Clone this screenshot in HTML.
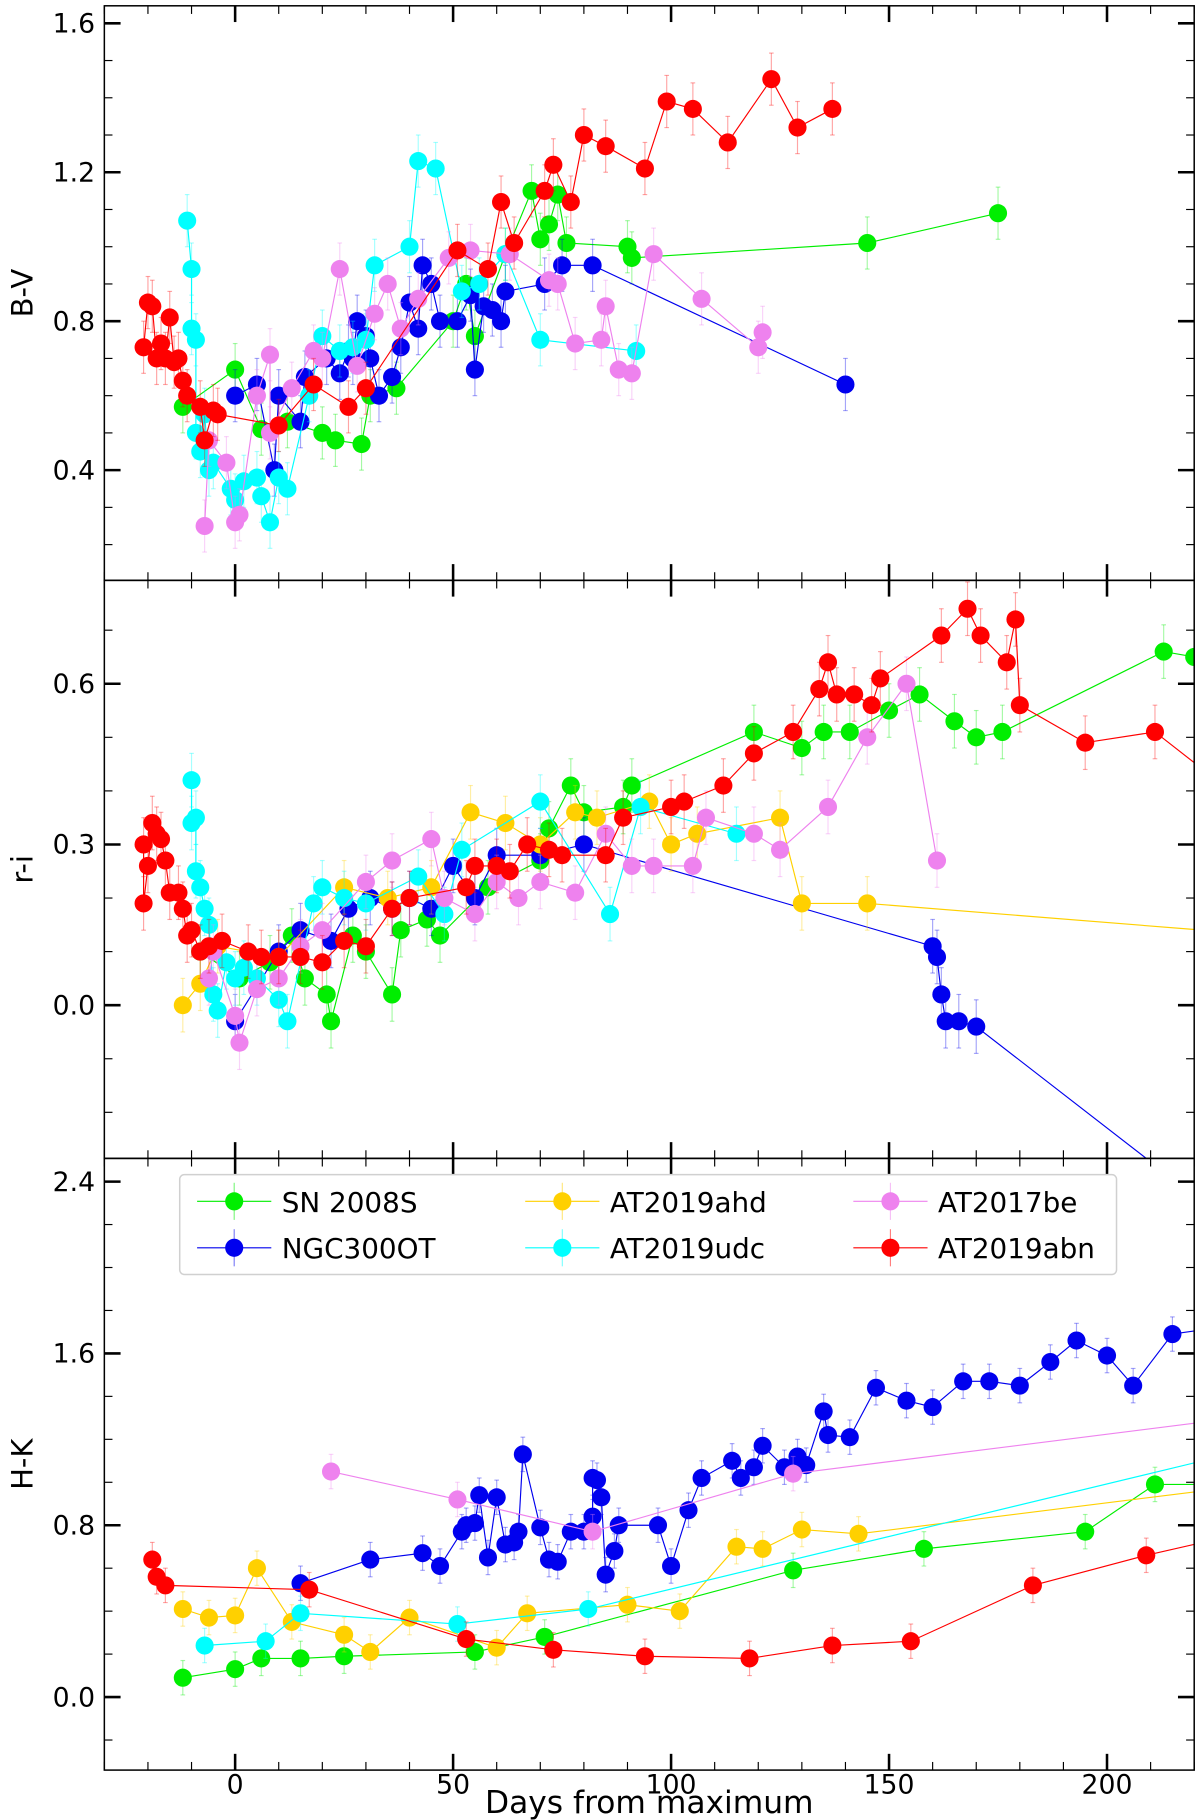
<!DOCTYPE html>
<html><head><meta charset="utf-8"><style>
html,body{margin:0;padding:0;background:#fff;}
svg{display:block;font-family:"DejaVu Sans","Liberation Sans",sans-serif;}
</style></head><body>
<svg id="chart" width="1200" height="1820" viewBox="0 0 1035 1568" preserveAspectRatio="none" xmlns="http://www.w3.org/2000/svg"></svg>
<script>
// ---- DATA ----
const seriesNames = ["SN 2008S","NGC300OT","AT2019ahd","AT2019udc","AT2017be","AT2019abn"];
const seriesColors = ["#00ee00","#0000ee","#ffd000","#00ffff","#ee82ee","#ff0000"];
const xTickLabels = [0,50,100,150,200];

// Panel 1: B-V
const bvSNDays=[-12,0,6,12,20,23,29,31,37,50,53,55,62,68,70,72,74,76,90,91,145,175];
const bvSNVals=[0.57,0.67,0.51,0.53,0.50,0.48,0.47,0.60,0.62,0.80,0.90,0.76,0.98,1.15,1.02,1.06,1.14,1.01,1.00,0.97,1.01,1.09];
const bvNGCDays=[0,5,9,10,15,16,21,24,26,27,28,30,31,33,36,38,40,42,43,45,47,51,54,55,57,59,61,62,71,75,82,140];
const bvNGCVals=[0.60,0.63,0.40,0.60,0.53,0.65,0.70,0.66,0.72,0.70,0.80,0.76,0.70,0.60,0.65,0.73,0.85,0.78,0.95,0.90,0.80,0.80,0.87,0.67,0.84,0.83,0.80,0.88,0.90,0.95,0.95,0.63];
const bvAHDDays=[];
const bvAHDVals=[];
const bvUDCDays=[-11,-10,-10,-9,-9,-8,-7,-6,-5,-1,0,2,5,6,8,10,12,17,20,24,27,30,32,40,42,46,52,56,62,70,92];
const bvUDCVals=[1.07,0.94,0.78,0.75,0.50,0.45,0.55,0.40,0.42,0.35,0.32,0.37,0.38,0.33,0.26,0.38,0.35,0.60,0.76,0.72,0.73,0.75,0.95,1.00,1.23,1.21,0.88,0.90,0.98,0.75,0.72];
const bvBEDays=[-7,-6,-2,0,1,5,8,8,13,18,20,24,28,32,35,38,42,49,54,63,72,74,78,84,85,88,91,96,107,120,121];
const bvBEVals=[0.25,0.48,0.42,0.26,0.28,0.60,0.71,0.50,0.62,0.72,0.70,0.94,0.68,0.82,0.90,0.78,0.86,0.97,0.99,0.98,0.91,0.90,0.74,0.75,0.84,0.67,0.66,0.98,0.86,0.73,0.77];
const bvABNDays=[-21,-20,-19,-18,-17,-16,-15,-14,-13,-12,-11,-8,-7,-5,-4,10,18,26,30,51,58,61,64,71,73,77,80,85,94,99,105,113,123,129,137];
const bvABNVals=[0.73,0.85,0.84,0.70,0.74,0.70,0.81,0.69,0.70,0.64,0.60,0.57,0.48,0.56,0.55,0.52,0.63,0.57,0.62,0.99,0.94,1.12,1.01,1.15,1.22,1.12,1.30,1.27,1.21,1.39,1.37,1.28,1.45,1.32,1.37];

// Panel 2: r-i
const riSNDays=[-8,1,8,13,16,21,22,27,30,36,38,44,47,58,70,72,77,80,89,91,119,130,135,141,150,157,165,170,176,213,220];
const riSNVals=[0.10,0.05,0.08,0.13,0.05,0.02,-0.03,0.13,0.10,0.02,0.14,0.16,0.13,0.22,0.27,0.33,0.41,0.36,0.37,0.41,0.51,0.48,0.51,0.51,0.55,0.58,0.53,0.50,0.51,0.66,0.65];
const riNGCDays=[0,10,15,22,26,31,36,40,45,50,55,60,70,80,160,161,162,163,166,170,235];
const riNGCVals=[-0.03,0.10,0.14,0.12,0.18,0.20,0.18,0.20,0.18,0.26,0.20,0.28,0.28,0.30,0.11,0.09,0.02,-0.03,-0.03,-0.04,-0.45];
const riAHDDays=[-12,-8,-4,10,25,35,45,54,62,70,78,83,95,100,106,125,130,145,222];
const riAHDVals=[0.00,0.04,0.11,0.09,0.22,0.20,0.22,0.36,0.34,0.30,0.36,0.35,0.38,0.30,0.32,0.35,0.19,0.19,0.14];
const riUDCDays=[-10,-10,-9,-9,-8,-7,-6,-5,-4,-2,0,2,5,10,12,18,20,25,30,42,48,52,70,86,93,115];
const riUDCVals=[0.42,0.34,0.35,0.25,0.22,0.18,0.15,0.02,-0.01,0.08,0.05,0.07,0.05,0.01,-0.03,0.19,0.22,0.20,0.19,0.24,0.17,0.29,0.38,0.17,0.37,0.32];
const riBEDays=[-6,-5,0,1,5,10,15,20,30,36,45,48,55,60,65,70,78,85,91,96,105,108,119,125,136,145,154,161];
const riBEVals=[0.05,0.10,-0.02,-0.07,0.03,0.05,0.11,0.14,0.23,0.27,0.31,0.20,0.17,0.23,0.20,0.23,0.21,0.32,0.26,0.26,0.26,0.35,0.32,0.29,0.37,0.50,0.60,0.27];
const riABNDays=[-21,-21,-20,-19,-18,-17,-16,-15,-13,-12,-11,-10,-8,-6,-3,3,6,10,15,20,25,30,36,40,53,55,60,63,67,72,75,85,89,100,103,112,119,128,134,136,138,142,146,148,162,168,171,177,179,180,195,211,222];
const riABNVals=[0.30,0.19,0.26,0.34,0.32,0.31,0.27,0.21,0.21,0.18,0.13,0.14,0.10,0.11,0.12,0.10,0.09,0.09,0.09,0.08,0.12,0.11,0.18,0.20,0.22,0.26,0.26,0.25,0.30,0.29,0.28,0.28,0.35,0.37,0.38,0.41,0.47,0.51,0.59,0.64,0.58,0.58,0.56,0.61,0.69,0.74,0.69,0.64,0.72,0.56,0.49,0.51,0.44];

// Panel 3: H-K
const hkSNDays=[-12,0,6,15,25,55,71,128,158,195,211,222];
const hkSNVals=[0.09,0.13,0.18,0.18,0.19,0.21,0.28,0.59,0.69,0.77,0.99,0.99];
const hkNGCDays=[15,31,43,47,52,53,55,56,58,60,62,64,65,66,70,72,74,77,80,82,82,83,84,85,87,88,97,100,104,107,114,116,119,121,126,129,131,135,136,141,147,154,160,167,173,180,187,193,200,206,215,222];
const hkNGCVals=[0.53,0.64,0.67,0.61,0.77,0.80,0.81,0.94,0.65,0.93,0.71,0.72,0.77,1.13,0.79,0.64,0.63,0.77,0.77,0.84,1.02,1.01,0.93,0.57,0.68,0.80,0.80,0.61,0.87,1.02,1.10,1.02,1.07,1.17,1.07,1.12,1.08,1.33,1.22,1.21,1.44,1.38,1.35,1.47,1.47,1.45,1.56,1.66,1.59,1.45,1.69,1.71];
const hkAHDDays=[-12,-6,0,5,13,25,31,40,60,67,90,102,115,121,130,143,222];
const hkAHDVals=[0.41,0.37,0.38,0.60,0.35,0.29,0.21,0.37,0.23,0.39,0.43,0.40,0.70,0.69,0.78,0.76,0.96];
const hkUDCDays=[-7,7,15,51,81,222];
const hkUDCVals=[0.24,0.26,0.39,0.34,0.41,1.10];
const hkBEDays=[22,51,82,128,222];
const hkBEVals=[1.05,0.92,0.77,1.04,1.28];
const hkABNDays=[-19,-18,-16,17,53,73,94,118,137,155,183,209,222];
const hkABNVals=[0.64,0.56,0.52,0.50,0.27,0.22,0.19,0.18,0.24,0.26,0.52,0.66,0.72];

// ---- LAYOUT ----
const NS="http://www.w3.org/2000/svg";
const svg=document.getElementById('chart');
const L=90,R=1030,xmin=-30,xmax=220;
const xs=d=>L+(d-xmin)/(xmax-xmin)*(R-L);
function mk(tag,attrs,parent){const e=document.createElementNS(NS,tag);for(const k in attrs)e.setAttribute(k,attrs[k]);(parent||svg).appendChild(e);return e;}

const panels=[
 {key:'bv',label:'B-V',top:5,bot:500,ymin:0.104,ymax:1.647,major:[0.4,0.8,1.2,1.6],minorStep:0.1,err:0.07,
  series:[[bvSNDays,bvSNVals],[bvNGCDays,bvNGCVals],[bvAHDDays,bvAHDVals],[bvUDCDays,bvUDCVals],[bvBEDays,bvBEVals],[bvABNDays,bvABNVals]]},
 {key:'ri',label:'r-i',top:500,bot:998,ymin:-0.286,ymax:0.793,major:[0.0,0.3,0.6],minorStep:0.1,err:0.05,
  series:[[riSNDays,riSNVals],[riNGCDays,riNGCVals],[riAHDDays,riAHDVals],[riUDCDays,riUDCVals],[riBEDays,riBEVals],[riABNDays,riABNVals]]},
 {key:'hk',label:'H-K',top:998,bot:1525,ymin:-0.34,ymax:2.508,major:[0.0,0.8,1.6,2.4],minorStep:0.2,err:0.08,
  series:[[hkSNDays,hkSNVals],[hkNGCDays,hkNGCVals],[hkAHDDays,hkAHDVals],[hkUDCDays,hkUDCVals],[hkBEDays,hkBEVals],[hkABNDays,hkABNVals]]}
];

panels.forEach((p,pi)=>{
  const ys=v=>p.bot-(v-p.ymin)/(p.ymax-p.ymin)*(p.bot-p.top);
  const g=mk('g',{});
  
  
  const clip=mk('clipPath',{id:'clip'+pi},g);
  mk('rect',{x:L,y:p.top,width:R-L,height:p.bot-p.top},clip);
  const data=mk('g',{'clip-path':'url(#clip'+pi+')'},g);
  p.series.forEach((s,si)=>{
    const [dx,dv]=s; if(!dx.length)return;
    const col=seriesColors[si];
    const sg=mk('g',{},data);
    
    
    dx.forEach((d,i)=>{
      const x=xs(d),y1=ys(dv[i]-p.err),y2=ys(dv[i]+p.err);
      mk('line',{x1:x,x2:x,y1:y1,y2:y2,stroke:col,'stroke-width':1,opacity:0.35},sg);
      mk('line',{x1:x-2,x2:x+2,y1:y1,y2:y1,stroke:col,'stroke-width':1,opacity:0.35},sg);
      mk('line',{x1:x-2,x2:x+2,y1:y2,y2:y2,stroke:col,'stroke-width':1,opacity:0.35},sg);
    });
    mk('polyline',{points:dx.map((d,i)=>xs(d)+','+ys(dv[i])).join(' '),fill:'none',stroke:col,'stroke-width':1},sg);
    dx.forEach((d,i)=>{
      const c=mk('circle',{cx:xs(d),cy:ys(dv[i]),r:7.8,fill:col},sg);
      
      
    });
  });
  mk('rect',{x:L,y:p.top,width:R-L,height:p.bot-p.top,fill:'none',stroke:'#000','stroke-width':1.3},g);
  for(let v=Math.ceil(p.ymin/p.minorStep)*p.minorStep;v<=p.ymax;v+=p.minorStep){
    const y=ys(v);
    mk('line',{x1:L,x2:L+7,y1:y,y2:y,stroke:'#000','stroke-width':1},g);
    mk('line',{x1:R,x2:R-7,y1:y,y2:y,stroke:'#000','stroke-width':1},g);
  }
  p.major.forEach(v=>{
    const y=ys(v);
    mk('line',{x1:L,x2:L+14,y1:y,y2:y,stroke:'#000','stroke-width':2.2},g);
    mk('line',{x1:R,x2:R-14,y1:y,y2:y,stroke:'#000','stroke-width':2.2},g);
    const t=mk('text',{x:L-8,y:y+8,'text-anchor':'end','font-size':23},g);
    t.textContent=v.toFixed(1);
    
    
  });
  for(let d=-30;d<=220;d+=10){
    const x=xs(d);
    mk('line',{x1:x,x2:x,y1:p.bot,y2:p.bot-7,stroke:'#000','stroke-width':1},g);
    mk('line',{x1:x,x2:x,y1:p.top,y2:p.top+7,stroke:'#000','stroke-width':1},g);
  }
  xTickLabels.forEach(d=>{
    const x=xs(d);
    mk('line',{x1:x,x2:x,y1:p.bot,y2:p.bot-14,stroke:'#000','stroke-width':2.2},g);
    mk('line',{x1:x,x2:x,y1:p.top,y2:p.top+14,stroke:'#000','stroke-width':2.2},g);
  });
  const yl=mk('text',{x:0,y:0,'text-anchor':'middle','font-size':25,transform:`translate(28,${(p.top+p.bot)/2}) rotate(-90)`},g);
  yl.textContent=p.label;
  
  
});

xTickLabels.forEach(d=>{
  const t=mk('text',{x:xs(d),y:1545,'text-anchor':'middle','font-size':23});
  t.textContent=String(d);
  
  
});
const xl=mk('text',{x:560,y:1562,'text-anchor':'middle','font-size':27});
xl.textContent='Days from maximum';



const lg=mk('g',{});


mk('rect',{x:155,y:1012,width:808,height:86,rx:4,fill:'#fff','fill-opacity':0.85,stroke:'#d0d0d0','stroke-width':1.3},lg);
const colX=[202,485,768],rowY=[1035,1075];
const order=[[0,0],[1,0],[2,1],[3,1],[4,2],[5,2]];
order.forEach(([si,c],k)=>{
  const row=k%2,x=colX[c],y=rowY[row],col=seriesColors[si];
  const e=mk('g',{},lg);
  
  
  mk('line',{x1:x-32,x2:x+32,y1:y,y2:y,stroke:col,'stroke-width':1},e);
  mk('line',{x1:x,x2:x,y1:y-16,y2:y+16,stroke:col,'stroke-width':1,opacity:0.5},e);
  mk('circle',{cx:x,cy:y,r:7.8,fill:col},e);
  const t=mk('text',{x:x+41,y:y+9,'font-size':24},e);
  t.textContent=seriesNames[si];
});
</script>
</body></html>
